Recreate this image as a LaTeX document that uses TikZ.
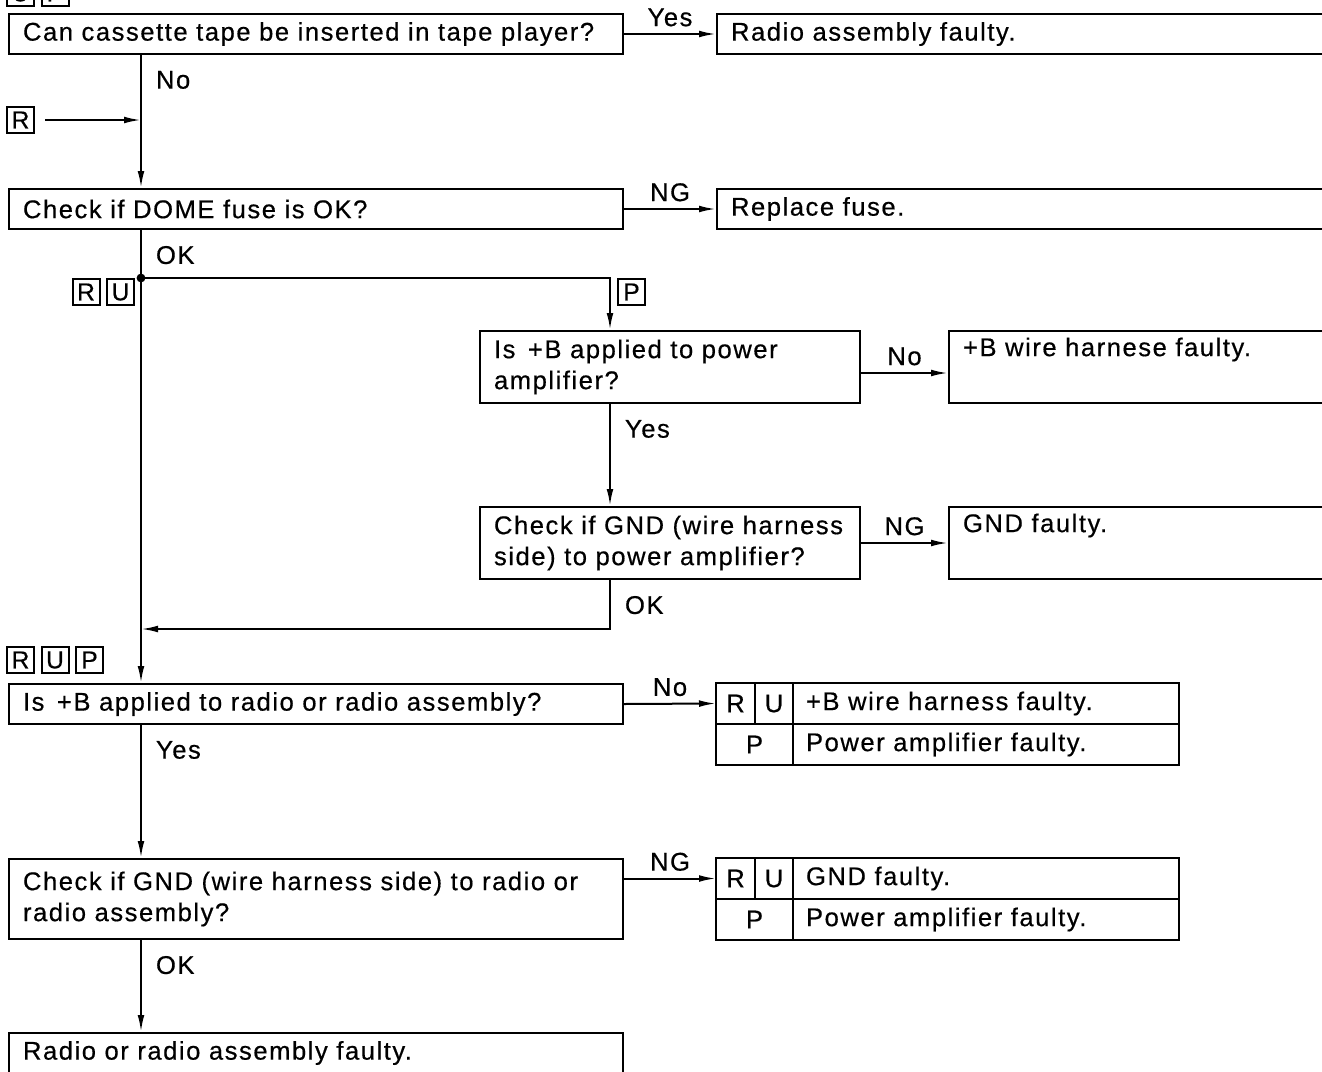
\documentclass[tikz,border=0pt]{standalone}
\usepackage{fontspec}
\setmainfont{Liberation Sans}[LetterSpace=6, FakeBold=0.5]
\newfontfamily\tagfont{Liberation Sans}[FakeBold=0.5]
\usetikzlibrary{arrows.meta,positioning}

\begin{document}
\begin{tikzpicture}[x=0.5pt, y=-0.5pt, line width=1pt,
    font=\fontsize{12.8}{15.5}\selectfont,
    qbox/.style={draw, anchor=north west, minimum height=20pt, inner xsep=7pt, inner ysep=0pt, align=left, text width=#1},
    qbox/.default=293pt,
    cell/.style={draw, anchor=north west, minimum height=20.5pt, inner sep=0pt, outer sep=0pt},
    tcell/.style={cell, text width=180pt, inner xsep=6.5pt, align=left},
    tag/.style={draw, minimum width=13.5pt, minimum height=13pt, inner sep=0pt, outer sep=0pt, font=\tagfont\fontsize{12.3}{12.3}\selectfont},
    lbl/.style={anchor=north west, inner sep=0pt, xshift=7pt, yshift=-7.5pt},
    arr/.style={-{Latex[length=8.5pt,width=3.4pt]}}]
  \useasboundingbox (0,0) rectangle (1322,1071);
  \clip (0,0) rectangle (1322,1071);
  \coordinate (main) at (141,0);
  \coordinate (side) at (610,0);
  \node[tag, anchor=south west] (top1) at (7,6) {U};
  \node[tag, right=3.75pt of top1] (top2) {P};
  \node[qbox] (q1) at (8,13) {Can cassette tape be inserted in tape player?};
  \node[qbox=298pt] (a1) at (716,13) {Radio assembly faulty.};
  \node[tag, anchor=north west] (r1) at (7,107) {R};
  \node[qbox] (q2) at (8,188) {Check if DOME fuse is OK?};
  \node[qbox=298pt] (a2) at (716,188) {Replace fuse.};
  \coordinate (j1) at (141,278);
  \node[tag, anchor=north east] (ru2) at (134,279) {U};
  \node[tag, left=3.75pt of ru2] (ru1) {R};
  \node[tag, anchor=north west] (p1) at (618,279) {P};
  \node[qbox=176pt, minimum height=36pt] (q3) at (479,330) {Is \kern2pt+B applied to power\\amplifier?};
  \node[qbox=182pt, minimum height=36pt] (a3) at (948,330) {+B wire harnese faulty.\\\strut};
  \node[qbox=176pt, minimum height=36pt] (q4) at (479,506) {Check if GND (wire harness\\side) to power amplifier?};
  \node[qbox=182pt, minimum height=36pt] (a4) at (948,506) {GND faulty.\\\strut};
  \coordinate (j2) at (141,629);
  \node[tag, anchor=north west] (rup1) at (7,647) {R};
  \node[tag, right=3.75pt of rup1] (rup2) {U};
  \node[tag, right=3.75pt of rup2] (rup3) {P};
  \node[qbox] (q5) at (8,683) {Is \kern2pt+B applied to radio or radio assembly?};
  \node[cell, minimum width=19.5pt] (t1r) at (716,683) {R};
  \node[cell, minimum width=19pt] (t1u) at (t1r.north east) {U};
  \node[tcell] (t1a) at (t1u.north east) {+B wire harness faulty.};
  \node[cell, minimum width=38.5pt] (t1p) at (t1r.south west) {P};
  \node[tcell] (t1b) at (t1p.north east) {Power amplifier faulty.};
  \node[qbox, minimum height=40pt] (q6) at (8,858) {Check if GND (wire harness side) to radio or\\radio assembly?};
  \node[cell, minimum width=19.5pt] (t2r) at (716,858) {R};
  \node[cell, minimum width=19pt] (t2u) at (t2r.north east) {U};
  \node[tcell] (t2a) at (t2u.north east) {GND faulty.};
  \node[cell, minimum width=38.5pt] (t2p) at (t2r.south west) {P};
  \node[tcell] (t2b) at (t2p.north east) {Power amplifier faulty.};
  \node[qbox] (q7) at (8,1032) {Radio or radio assembly faulty.};
  \draw[arr] (q1.east) -- (a1.west) node[midway, above] {Yes};
  \draw[arr] (q1.south -| main) -- (q2.north -| main) node[lbl, pos=0] {No};
  \draw[arr] ([xshift=5.5pt]r1.east) -- (r1.east -| main);
  \draw[arr] (q2.east) -- (a2.west) node[midway, above] {NG};
  \draw (q2.south -| main) -- (j1) node[lbl, pos=0] {OK};
  \draw[arr] (j1) -- (q5.north -| main);
  \fill (j1) circle (2.2pt);
  \draw[arr] (j1) -| (q3.north -| side);
  \draw[arr] ([yshift=-3pt]q3.east) -- ([yshift=-3pt]a3.west) node[midway, above] {No};
  \draw[arr] (q3.south -| side) -- (q4.north -| side) node[lbl, pos=0] {Yes};
  \draw[arr] (q4.east) -- (a4.west) node[midway, above] {NG};
  \draw[arr] (q4.south -| side) |- (j2) node[lbl, pos=0] {OK};
  \draw[arr] (q5.east) -- (t1r.west) node[midway, above] {No};
  \draw[arr] (q5.south -| main) -- (q6.north -| main) node[lbl, pos=0] {Yes};
  \draw[arr] (q6.east |- t2r.west) -- (t2r.west) node[midway, above] {NG};
  \draw[arr] (q6.south -| main) -- (q7.north -| main) node[lbl, pos=0] {OK};
\end{tikzpicture}
\end{document}
